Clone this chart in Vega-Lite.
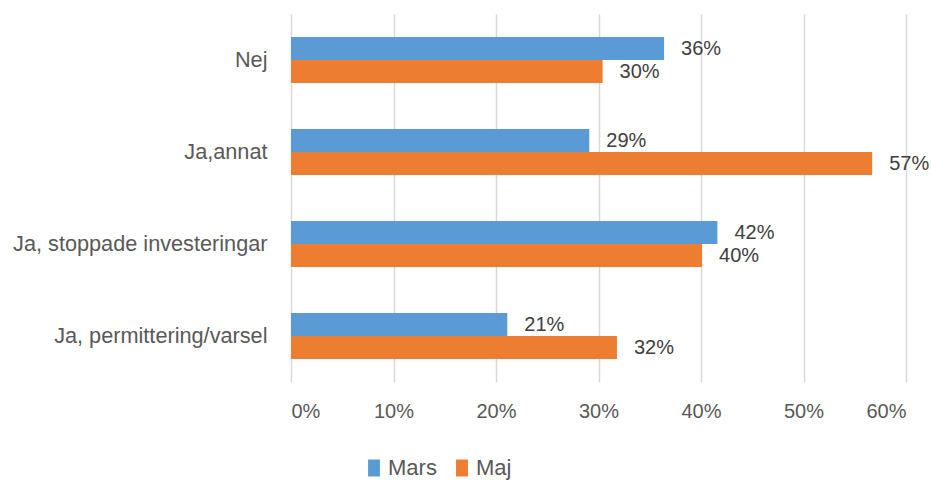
{
  "$schema": "https://vega.github.io/schema/vega-lite/v6.json",
  "width": 615,
  "height": 368,
  "autosize": {"type": "none"},
  "padding": {"left": 291, "top": 14, "right": 25, "bottom": 99},
  "background": "white",
  "config": {"view": {"stroke": null}, "font": "Liberation Sans"},
  "data": {
    "values": [
      {"kategori": "Nej", "serie": "Mars", "andel": 0.364},
      {"kategori": "Nej", "serie": "Maj", "andel": 0.304},
      {"kategori": "Ja,annat", "serie": "Mars", "andel": 0.291},
      {"kategori": "Ja,annat", "serie": "Maj", "andel": 0.567},
      {"kategori": "Ja, stoppade investeringar", "serie": "Mars", "andel": 0.416},
      {"kategori": "Ja, stoppade investeringar", "serie": "Maj", "andel": 0.401},
      {"kategori": "Ja, permittering/varsel", "serie": "Mars", "andel": 0.211},
      {"kategori": "Ja, permittering/varsel", "serie": "Maj", "andel": 0.318}
    ]
  },
  "encoding": {
    "y": {
      "field": "kategori",
      "type": "nominal",
      "sort": ["Nej", "Ja,annat", "Ja, stoppade investeringar", "Ja, permittering/varsel"],
      "scale": {"paddingInner": 0.5, "paddingOuter": 0.25},
      "axis": {"title": null, "domain": false, "ticks": false, "labelFontSize": 21.7, "labelColor": "#595959", "labelPadding": 24, "labelLimit": 300}
    },
    "yOffset": {
      "field": "serie",
      "type": "nominal",
      "sort": ["Mars", "Maj"]
    },
    "x": {
      "field": "andel",
      "type": "quantitative",
      "scale": {"domain": [0, 0.6], "nice": false},
      "axis": {"title": null, "format": ".0%", "values": [0, 0.1, 0.2, 0.3, 0.4, 0.5, 0.6], "domain": false, "ticks": false, "grid": true, "gridColor": "#D9D9D9", "gridWidth": 1.5, "labelFontSize": 20, "labelColor": "#595959", "labelPadding": 19}
    }
  },
  "layer": [
    {
      "mark": {"type": "bar"},
      "encoding": {
        "color": {
          "field": "serie",
          "type": "nominal",
          "sort": ["Mars", "Maj"],
          "scale": {"domain": ["Mars", "Maj"], "range": ["#5B9BD5", "#ED7D31"]},
          "legend": {"title": null, "orient": "none", "direction": "horizontal", "legendX": 72, "legendY": 443, "symbolType": "M-0.7,-1H0.7V1H-0.7Z", "symbolSize": 289, "symbolStrokeWidth": 0, "labelFontSize": 22, "labelColor": "#595959", "columnPadding": 14, "labelOffset": 3}
        }
      }
    },
    {
      "mark": {"type": "text", "align": "left", "baseline": "middle", "dx": 17, "fontSize": 20, "color": "#404040"},
      "encoding": {
        "text": {"field": "andel", "type": "quantitative", "format": ".0%"}
      }
    }
  ]
}
